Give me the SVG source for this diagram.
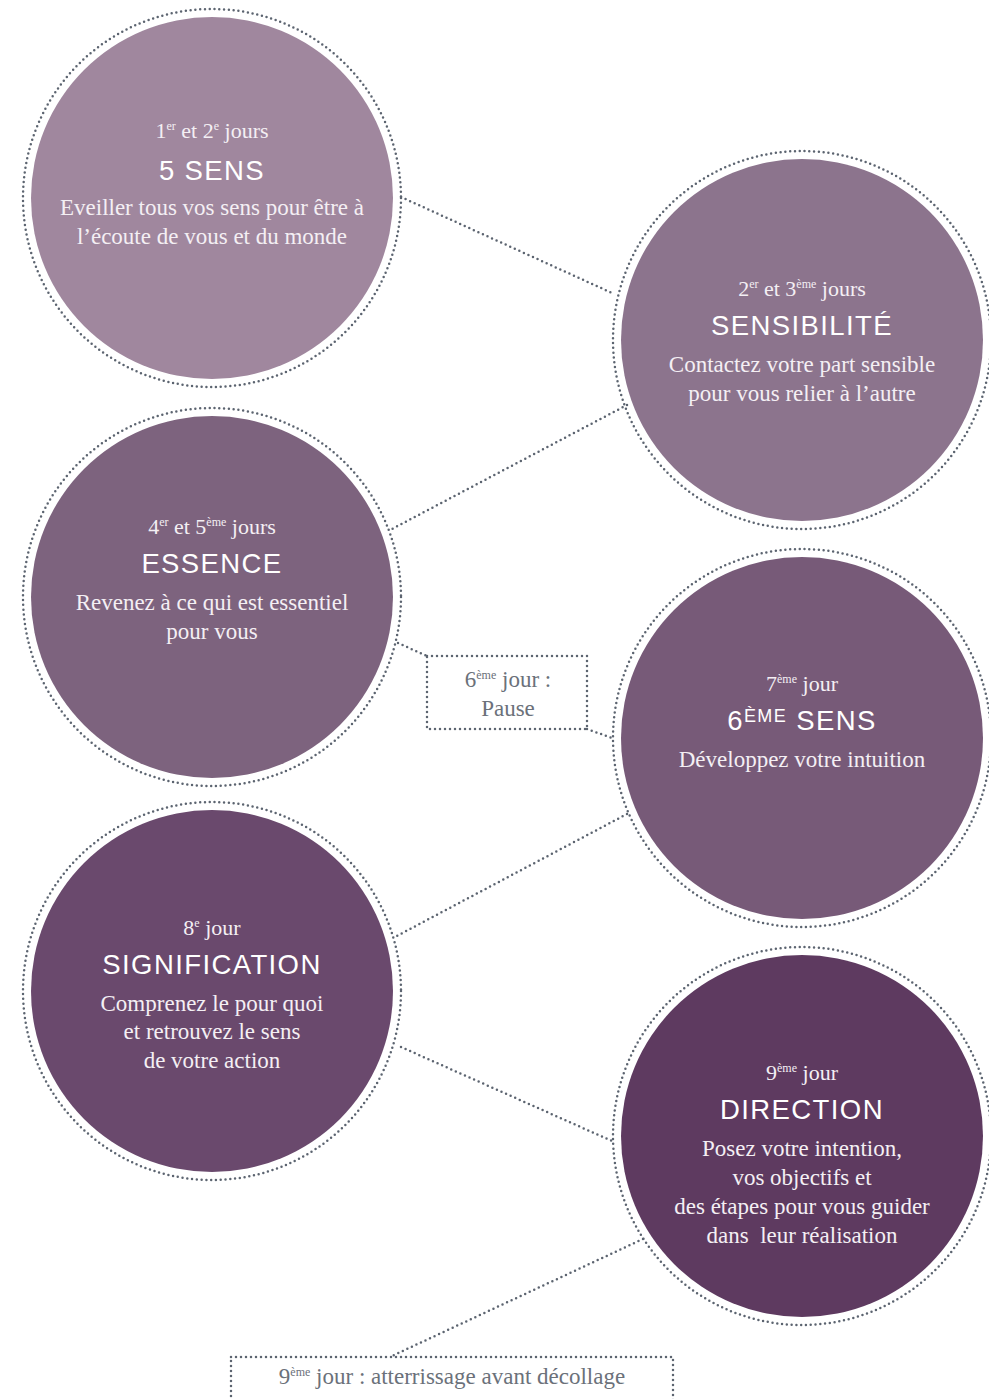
<svg xmlns="http://www.w3.org/2000/svg" width="989" height="1399" viewBox="0 0 989 1399">
<style>
.ring{fill:none;stroke:#5c6470;stroke-width:2.5;stroke-dasharray:0 4.8;stroke-linecap:round}
.dot{fill:none;stroke:#5c6470;stroke-width:2.5;stroke-dasharray:0 5;stroke-linecap:round}
.day{font-family:"Liberation Serif",serif;font-size:22px;fill:#f4eff4;text-anchor:middle}
.sup{font-size:12px}
.ttl{font-family:"Liberation Sans",sans-serif;font-size:27.5px;fill:#ffffff;text-anchor:middle;letter-spacing:1.4px}
.ttls{font-size:18px}
.body{font-family:"Liberation Serif",serif;font-size:23px;fill:#f4eff4;text-anchor:middle}
.box{font-family:"Liberation Serif",serif;font-size:23px;fill:#6b717a;text-anchor:middle}
</style>
<rect width="989" height="1399" fill="#ffffff"/>
<g id="connectors">
<line class="dot" x1="401" y1="197" x2="612" y2="293"/>
<line class="dot" x1="627" y1="405" x2="390" y2="530"/>
<line class="dot" x1="398" y1="643" x2="427" y2="656"/>
<line class="dot" x1="587" y1="729" x2="612" y2="738"/>
<line class="dot" x1="627" y1="814" x2="393" y2="938"/>
<line class="dot" x1="401" y1="1047" x2="612" y2="1141"/>
<line class="dot" x1="643" y1="1239" x2="392" y2="1356"/>
</g>
<g id="n1">
<circle class="ring" cx="212" cy="198" r="189"/>
<circle cx="212" cy="198" r="181" fill="#a0879e"/>
<text class="day" x="212" y="138">1<tspan class="sup" dy="-8">er</tspan><tspan dy="8"> et 2</tspan><tspan class="sup" dy="-8">e</tspan><tspan dy="8"> jours</tspan></text>
<text class="ttl" x="212" y="180">5 SENS</text>
<text class="body" x="212" y="215">Eveiller tous vos sens pour être à</text>
<text class="body" x="212" y="244">l’écoute de vous et du monde</text>
</g>
<g id="n2">
<circle class="ring" cx="802" cy="340" r="189"/>
<circle cx="802" cy="340" r="181" fill="#8c748d"/>
<text class="day" x="802" y="296">2<tspan class="sup" dy="-8">er</tspan><tspan dy="8"> et 3</tspan><tspan class="sup" dy="-8">ème</tspan><tspan dy="8"> jours</tspan></text>
<text class="ttl" x="802" y="335">SENSIBILITÉ</text>
<text class="body" x="802" y="372">Contactez votre part sensible</text>
<text class="body" x="802" y="401">pour vous relier à l’autre</text>
</g>
<g id="n3">
<circle class="ring" cx="212" cy="597" r="189"/>
<circle cx="212" cy="597" r="181" fill="#7d637e"/>
<text class="day" x="212" y="534">4<tspan class="sup" dy="-8">er</tspan><tspan dy="8"> et 5</tspan><tspan class="sup" dy="-8">ème</tspan><tspan dy="8"> jours</tspan></text>
<text class="ttl" x="212" y="573">ESSENCE</text>
<text class="body" x="212" y="610">Revenez à ce qui est essentiel</text>
<text class="body" x="212" y="639">pour vous</text>
</g>
<g id="pause">
<rect class="dot" x="427" y="656" width="160" height="73"/>
<text class="box" x="508" y="687">6<tspan class="sup" dy="-8">ème</tspan><tspan dy="8"> jour :</tspan></text>
<text class="box" x="508" y="716">Pause</text>
</g>
<g id="n4">
<circle class="ring" cx="802" cy="738" r="189"/>
<circle cx="802" cy="738" r="181" fill="#775a78"/>
<text class="day" x="802" y="691">7<tspan class="sup" dy="-8">ème</tspan><tspan dy="8"> jour</tspan></text>
<text class="ttl" x="802" y="730">6<tspan class="ttls" dy="-8">ÈME</tspan><tspan dy="8"> SENS</tspan></text>
<text class="body" x="802" y="767">Développez votre intuition</text>
</g>
<g id="n5">
<circle class="ring" cx="212" cy="991" r="189"/>
<circle cx="212" cy="991" r="181" fill="#6a496d"/>
<text class="day" x="212" y="935">8<tspan class="sup" dy="-8">e</tspan><tspan dy="8"> jour</tspan></text>
<text class="ttl" x="212" y="974">SIGNIFICATION</text>
<text class="body" x="212" y="1011">Comprenez le pour quoi</text>
<text class="body" x="212" y="1039">et retrouvez le sens</text>
<text class="body" x="212" y="1068">de votre action</text>
</g>
<g id="n6">
<circle class="ring" cx="802" cy="1136" r="189"/>
<circle cx="802" cy="1136" r="181" fill="#5e3a60"/>
<text class="day" x="802" y="1080">9<tspan class="sup" dy="-8">ème</tspan><tspan dy="8"> jour</tspan></text>
<text class="ttl" x="802" y="1119">DIRECTION</text>
<text class="body" x="802" y="1156">Posez votre intention,</text>
<text class="body" x="802" y="1185">vos objectifs et</text>
<text class="body" x="802" y="1214">des étapes pour vous guider</text>
<text class="body" x="802" y="1243">dans&#160; leur réalisation</text>
</g>
<g id="final">
<rect class="dot" x="231" y="1357" width="442" height="60"/>
<text class="box" x="452" y="1384">9<tspan class="sup" dy="-8">ème</tspan><tspan dy="8"> jour : atterrissage avant décollage</tspan></text>
</g>
</svg>
